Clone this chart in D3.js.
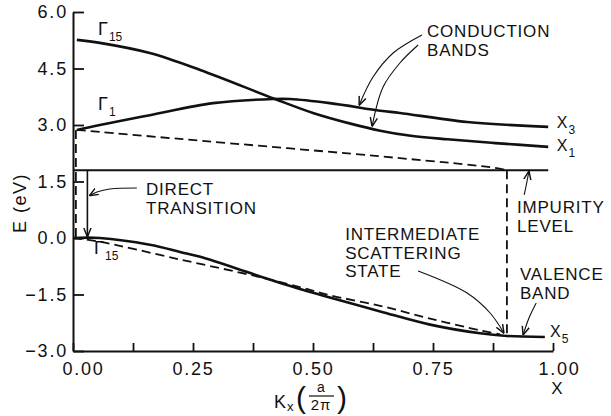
<!DOCTYPE html>
<html>
<head>
<meta charset="utf-8">
<script src="https://cdn.jsdelivr.net/npm/d3@7"></script>
<style>
  body { margin: 0; background: #fff; }
  text { font-family: "Liberation Sans", Arial, sans-serif; fill: #111; }
</style>
</head>
<body>
<div id="chart"></div>
<script>
// k in units of 2pi/a, E in eV
var gamma15K = [0.008, 0.056, 0.16, 0.265, 0.421, 0.50, 0.58, 0.64, 0.70, 0.78, 0.88, 0.99];
var gamma15E = [5.26, 5.18, 4.91, 4.46, 3.69, 3.32, 3.03, 2.85, 2.72, 2.62, 2.52, 2.42];

var gamma1K = [0.008, 0.056, 0.16, 0.292, 0.417, 0.452, 0.535, 0.64, 0.681, 0.821, 0.99];
var gamma1E = [2.87, 3.00, 3.26, 3.58, 3.69, 3.69, 3.58, 3.38, 3.32, 3.08, 2.95];

var valenceK = [0, 0.056, 0.16, 0.223, 0.265, 0.39, 0.48, 0.535, 0.64, 0.744, 0.848, 0.904, 0.983];
var valenceE = [0, 0, -0.18, -0.37, -0.50, -1.02, -1.38, -1.58, -1.95, -2.30, -2.53, -2.60, -2.63];

// indirect path through the intermediate scattering state
var condDashK = [0.008, 0.223, 0.681, 0.869, 0.905];
var condDashE = [2.87, 2.63, 2.12, 1.88, 1.80];
var valDashK = [0, 0.056, 0.223, 0.39, 0.48, 0.535, 0.64, 0.744, 0.848, 0.89];
var valDashE = [0, -0.10, -0.57, -1.04, -1.33, -1.52, -1.80, -2.14, -2.45, -2.56];

var impurityE = 1.8;
var impurityK = [0, 0.99];
var directK = 0.03;        // direct transition arrow
var leftDropK = 0.006;     // dashed drop at Gamma
var scatterK = 0.904;      // dashed drop at the scattering state
var scatterE = -2.6;

var xTicks = [0, 0.125, 0.25, 0.375, 0.5, 0.625, 0.75, 0.875, 1];
var xTickLabels = {0: "0.00", 0.25: "0.25", 0.5: "0.50", 0.75: "0.75", 1: "1.00"};
var yTicks = [-3, -1.5, 0, 1.5, 3, 4.5, 6];
var yTickLabels = ["\u22123.0", "\u22121.5", "0.0", "1.5", "3.0", "4.5", "6.0"];

// labels: position in data units (left edge, first baseline)
var textLabels = [
  {lines: ["CONDUCTION", "BANDS"], k: 0.7375, E: 5.336},
  {lines: ["DIRECT", "TRANSITION"], k: 0.152, E: 1.142},
  {lines: ["IMPURITY", "LEVEL"], k: 0.925, E: 0.664},
  {lines: ["INTERMEDIATE", "SCATTERING", "STATE"], k: 0.567, E: -0.053},
  {lines: ["VALENCE", "BAND"], k: 0.931, E: -1.115}
];
var symLabels = [
  {main: "\u0393", sub: "15", k: 0.052, E: 5.39},
  {main: "\u0393", sub: "1", k: 0.052, E: 3.40},
  {main: "\u0393", sub: "15", k: 0.044, E: -0.42},
  {main: "X", sub: "3", k: 1.008, E: 2.92},
  {main: "X", sub: "1", k: 1.008, E: 2.31},
  {main: "X", sub: "5", k: 0.994, E: -2.63}
];
// thin pointer arrows [k, E] ... ending at the tip
var pointers = [
  [[0.727, 5.389], [0.667, 4.911], [0.625, 4.274], [0.596, 3.52]],
  [[0.719, 5.124], [0.681, 4.646], [0.646, 4.009], [0.623, 2.96]],
  [[0.133, 1.327], [0.077, 1.301], [0.05, 1.221], [0.034, 1.12]],
  [[0.94, 1.142], [0.946, 1.513], [0.95, 1.78]],
  [[0.719, -0.876], [0.821, -1.46], [0.869, -1.991], [0.898, -2.53]],
  [[0.965, -1.726], [0.95, -2.124], [0.9375, -2.58]]
];

var width = 611, height = 416;
var svg = d3.select("#chart").append("svg")
  .attr("width", width).attr("height", height);

var x = d3.scaleLinear().domain([0, 1]).range([73, 553]);
var y = d3.scaleLinear().domain([-3, 6]).range([351, 12]);

var defs = svg.append("defs");
defs.append("marker").attr("id", "head")
  .attr("markerUnits", "userSpaceOnUse")
  .attr("viewBox", "0 0 10 10").attr("refX", 10).attr("refY", 5)
  .attr("markerWidth", 9).attr("markerHeight", 9)
  .attr("orient", "auto")
  .append("path").attr("d", "M0,1 L10,5 L0,9")
  .attr("fill", "none").attr("stroke", "#111").attr("stroke-width", 1.6);

var line = d3.line().x(d => x(d[0])).y(d => y(d[1])).curve(d3.curveCatmullRom.alpha(0.5));

// axes
var yAxis = d3.axisLeft(y).tickValues(yTicks).tickSizeInner(-11).tickSizeOuter(0).tickPadding(5)
  .tickFormat((d, i) => yTickLabels[i]);
var xAxis = d3.axisBottom(x).tickValues(xTicks).tickSizeInner(-8).tickSizeOuter(0).tickPadding(11)
  .tickFormat(d => xTickLabels[d] || "");

var gy = svg.append("g").attr("transform", "translate(" + x(0) + ",0)").call(yAxis);
var gx = svg.append("g").attr("transform", "translate(0," + y(-3) + ")").call(xAxis);
[gx, gy].forEach(g => {
  g.select(".domain").attr("stroke", "#111").attr("stroke-width", 2);
  g.selectAll(".tick line").attr("stroke", "#111").attr("stroke-width", 1.8);
  g.selectAll(".tick text").attr("fill", "#111").style("font-size", "18px")
    .style("letter-spacing", "1.8px").attr("font-family", null);
});
gx.selectAll(".tick text").attr("dx", d => d === 0 ? 10 : (d === 1 ? 6 : 0));

// band curves
[[gamma15K, gamma15E], [gamma1K, gamma1E], [valenceK, valenceE]].forEach(s => {
  svg.append("path").datum(d3.zip(s[0], s[1])).attr("d", line)
    .attr("fill", "none").attr("stroke", "#111").attr("stroke-width", 2.6);
});

// impurity level
svg.append("line")
  .attr("x1", x(impurityK[0])).attr("x2", x(impurityK[1]))
  .attr("y1", y(impurityE)).attr("y2", y(impurityE))
  .attr("stroke", "#111").attr("stroke-width", 2);

// dashed transitions
[[condDashK, condDashE], [valDashK, valDashE]].forEach(s => {
  svg.append("path").datum(d3.zip(s[0], s[1])).attr("d", line)
    .attr("fill", "none").attr("stroke", "#111").attr("stroke-width", 1.8)
    .attr("stroke-dasharray", "9,5");
});
svg.append("line")
  .attr("x1", x(leftDropK)).attr("x2", x(leftDropK))
  .attr("y1", y(gamma1E[0])).attr("y2", y(0))
  .attr("stroke", "#111").attr("stroke-width", 1.8).attr("stroke-dasharray", "9,5");
svg.append("line")
  .attr("x1", x(scatterK)).attr("x2", x(scatterK))
  .attr("y1", y(impurityE)).attr("y2", y(scatterE))
  .attr("stroke", "#111").attr("stroke-width", 1.8).attr("stroke-dasharray", "9,5");

// direct transition
svg.append("line")
  .attr("x1", x(directK)).attr("x2", x(directK))
  .attr("y1", y(impurityE)).attr("y2", y(0) - 1)
  .attr("stroke", "#111").attr("stroke-width", 1.6)
  .attr("marker-end", "url(#head)");

// pointer arrows
pointers.forEach(p => {
  svg.append("path").datum(p).attr("d", line)
    .attr("fill", "none").attr("stroke", "#111").attr("stroke-width", 1.1)
    .attr("marker-end", "url(#head)");
});

// text labels
textLabels.forEach(l => {
  var t = svg.append("text").attr("x", x(l.k)).attr("y", y(l.E))
    .style("font-size", "17px").style("letter-spacing", "0.8px");
  l.lines.forEach((s, i) => {
    t.append("tspan").attr("x", x(l.k)).attr("dy", i === 0 ? 0 : 18.7).text(s);
  });
});
symLabels.forEach(l => {
  var t = svg.append("text").attr("x", x(l.k)).attr("y", y(l.E))
    .style("font-size", l.main === "X" ? "16px" : "18px");
  t.append("tspan").text(l.main);
  t.append("tspan").attr("dx", 1).attr("dy", 6).style("font-size", "12px").text(l.sub);
});

// axis titles
svg.append("text")
  .attr("transform", "translate(26,203) rotate(-90)")
  .attr("text-anchor", "middle").style("font-size", "18px").style("letter-spacing", "1.5px")
  .text("E (eV)");
svg.append("text").attr("x", x(1) + 4).attr("y", 394)
  .attr("text-anchor", "middle").style("font-size", "17px").text("X");

var kl = svg.append("g");
kl.append("text").attr("x", 274).attr("y", 408).style("font-size", "18px").text("K");
kl.append("text").attr("x", 287).attr("y", 411).style("font-size", "13px").text("x");
kl.append("text").attr("x", 296).attr("y", 408).style("font-size", "30px").text("(");
kl.append("text").attr("x", 321).attr("y", 392).attr("text-anchor", "middle")
  .style("font-size", "14px").text("a");
kl.append("line").attr("x1", 309).attr("x2", 334).attr("y1", 396).attr("y2", 396)
  .attr("stroke", "#111").attr("stroke-width", 1.2);
kl.append("text").attr("x", 321).attr("y", 410).attr("text-anchor", "middle")
  .style("font-size", "15px").style("letter-spacing", "1px").text("2\u03c0");
kl.append("text").attr("x", 337).attr("y", 408).style("font-size", "30px").text(")");
</script>
</body>
</html>
